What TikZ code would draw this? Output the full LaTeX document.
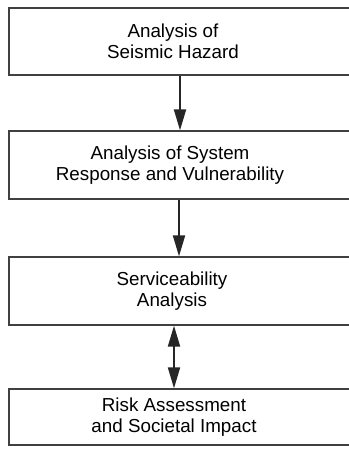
\documentclass[tikz,border=0pt]{standalone}
\usepackage{fontspec}
\setmainfont{Liberation Sans}
\usetikzlibrary{arrows.meta}

\begin{document}
\begin{tikzpicture}[x=1pt, y=-1pt]
		\tikzstyle{box}=[draw=black!75, line width=1.3pt, inner sep=0pt, minimum width=360pt]
		\tikzstyle{every label}=[align=center, font=\fontsize{18.8}{21.5}\selectfont, inner sep=0pt]
		\tikzstyle{flow}=[line width=2pt, black!85, -{Triangle[length=21pt 0 0, width=12pt 0 0]}]
		\useasboundingbox (0, 0) rectangle (348, 457);
		\node[box, minimum height=67pt, label={[xshift=-16pt]center:Analysis of\\Seismic Hazard}] (hazard) at (189, 41.5) {};
		\node[box, minimum height=68pt, label={[xshift=-19pt]center:Analysis of System\\Response and Vulnerability}] (response) at (189, 165) {};
		\node[box, minimum height=68pt, label={[xshift=-17pt]center:Serviceability\\Analysis}] (service) at (189, 291) {};
		\node[box, minimum height=56pt, label={[xshift=-15pt]center:Risk Assessment\\and Societal Impact}] (risk) at (189, 417) {};
		\draw [flow] ([xshift=-9pt]hazard.south) -- ([xshift=-9pt]response.north);
		\draw [flow] ([xshift=-10pt]response.south) -- ([xshift=-10pt]service.north);
		\draw [flow, {Triangle[length=21pt 0 0, width=12pt 0 0]}-{Triangle[length=21pt 0 0, width=12pt 0 0]}] ([xshift=-15pt]service.south) -- ([xshift=-15pt]risk.north);
\end{tikzpicture}
\end{document}
